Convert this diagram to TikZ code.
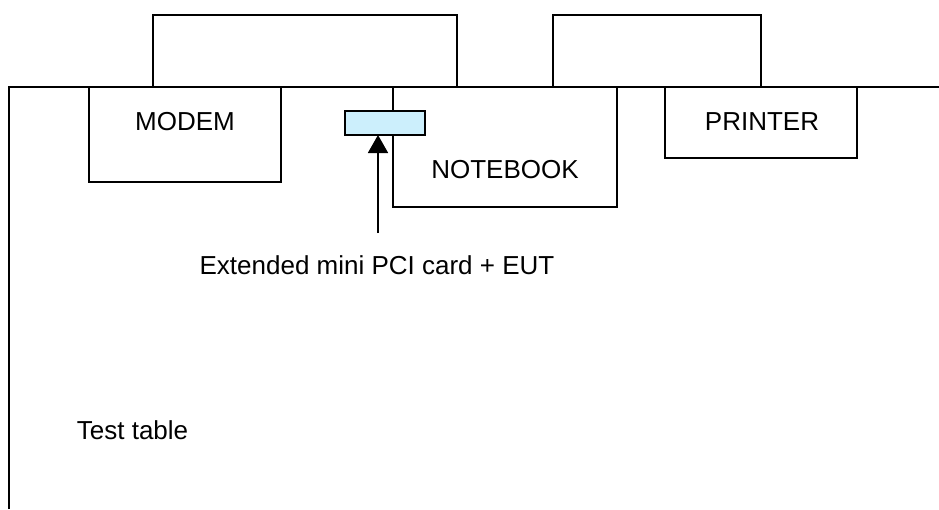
\documentclass[tikz,border=0pt]{standalone}
\usepackage{fontspec}
\setmainfont{Liberation Sans}
\usetikzlibrary{arrows.meta}

\begin{document}
\begin{tikzpicture}
        [x=1pt,y=-1pt,line width=1.8pt,
         box/.style={draw,fill=white,anchor=north west,inner sep=0,outer sep=0},
         txt/.style={font=\fontsize{26}{31}\selectfont,inner sep=0}]

        \useasboundingbox (0,0) rectangle (939,509);

        % test table
        \coordinate (t1) at (9,509);
        \coordinate (t2) at (9,87);
        \coordinate (t3) at (939,87);
        \draw (t1) -- (t2) -- (t3);

        % monitors behind the table edge
        \draw (153,87) -- (153,15) -- (457,15) -- (457,87);
        \draw (553,87) -- (553,15) -- (761,15) -- (761,87);

        \node[box,minimum width=192pt,minimum height=95pt] (modem) at (89,87) {};
        \node[box,minimum width=224pt,minimum height=120pt] (notebook) at (393,87) {};
        \node[box,minimum width=192pt,minimum height=71pt] (printer) at (665,87) {};
        \node[box,fill=cyan!20,minimum width=80pt,minimum height=24pt] (card) at (345,111) {};

        \node[txt] (lmodem) at (185,122) {MODEM};
        \node[txt] (lnotebook) at (505,170) {NOTEBOOK};
        \node[txt] (lprinter) at (762,122) {PRINTER};
        \node[txt] (lcard) at (377,265) {Extended mini PCI card + EUT};
        \node[txt,anchor=west] (ltable) at (76,430) {Test table};

        \coordinate (a1) at (378,233);
        \draw[-{Triangle[width=20pt,length=18pt]}] (a1) -- (a1 |- card.south);
      \end{tikzpicture}
\end{document}
